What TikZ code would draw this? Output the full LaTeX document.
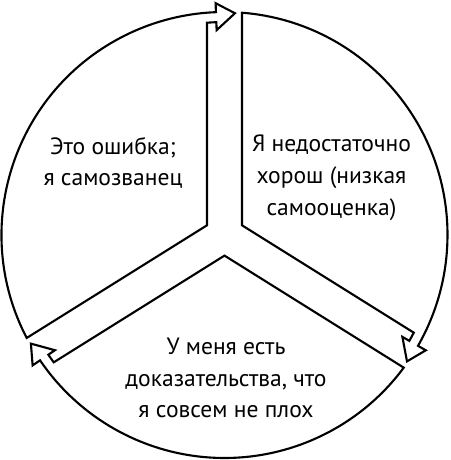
\documentclass[tikz,border=0pt]{standalone}
\usepackage{fontspec}
\setmainfont{PT Sans}
\begin{document}
\begin{tikzpicture}[x=0.02cm,y=0.02cm,
  sector/.style={draw=black,line width=1.2pt,line join=miter,fill=white},
  label/.style={align=center,inner sep=0pt,font=\fontsize{13.4pt}{18.1pt}\selectfont}]
\useasboundingbox (-224.5,-225) rectangle (225.5,235);
% left sector: arrow arm 90, plain arm 212
\draw[sector] (-17.5,9.7) -- (207.5:223) arc[start angle=207.5,end angle=92.2,radius=223]
  -- (92.2:232) -- (87.3:222) -- (92.2:205) -- (92.2:213)
  arc[start angle=92.2,end angle=94.71,radius=213] -- cycle;
% bottom sector: arrow arm 212, plain arm 328
\draw[sector] (0,-20.6) -- (323.5:223) arc[start angle=323.5,end angle=214.2,radius=223]
  -- (214.2:232) -- (209.3:222) -- (214.2:205) -- (214.2:213)
  arc[start angle=214.2,end angle=216.71,radius=213] -- cycle;
% right sector: arrow arm -32, plain arm 90
\draw[sector] (17.5,9.7) -- (85.5:223) arc[start angle=85.5,end angle=-29.8,radius=223]
  -- (-29.8:232) -- (-34.7:222) -- (-29.8:205) -- (-29.8:213)
  arc[start angle=-29.8,end angle=-27.29,radius=213] -- cycle;
\node[label] (err) at (-111.5,72) {Это ошибка;\\я самозванец};
\node[label] (low) at (107,57) {Я недостаточно\\хорош (низкая\\самооценка)};
\node[label] (proof) at (1.5,-143) {У меня есть\\доказательства, что\\я совсем не плох};
\end{tikzpicture}
\end{document}
